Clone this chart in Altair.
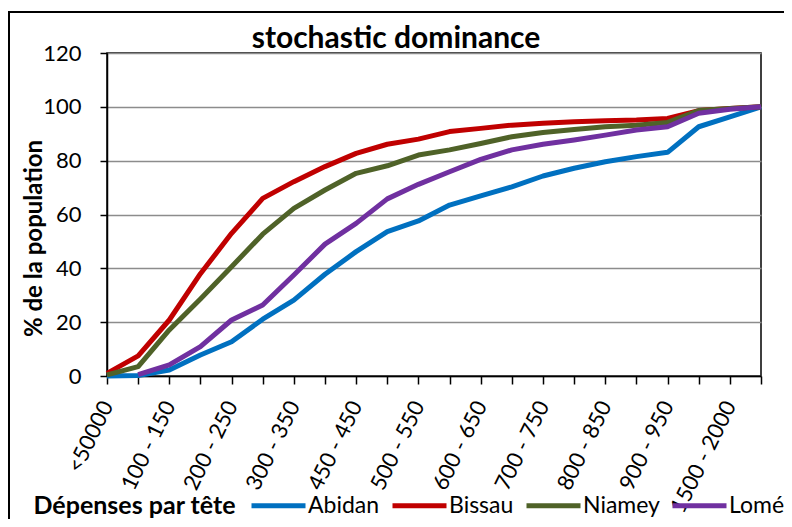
import altair as alt
import pandas as pd

categories = ["<50000", "50 - 100", "100 - 150", "150 - 200", "200 - 250", "250 - 300",
              "300 - 350", "350 - 400", "450 - 450", "450 - 500", "500 - 550", "550 - 600",
              "600 - 650", "650 - 700", "700 - 750", "750 - 800", "800 - 850", "850 - 900",
              "900 - 950", "1000 - 1500", "1500 - 2000", ">2000"]
shown_labels = categories[::2]

series = ["Abidan", "Bissau", "Niamey", "Lomé"]
colors = ["#0070C0", "#C00000", "#4F6228", "#7030A0"]

abidan = [0, 0.2, 2.2, 7.8, 12.7, 21.1, 28.2, 37.8, 46.2, 53.6, 57.6, 63.5, 66.9, 70.3,
          74.3, 77.2, 79.6, 81.5, 83.1, 92.6, 96.3, 100]
bissau = [1.0, 7.5, 20.8, 38.0, 53.0, 66.0, 72.2, 77.8, 82.7, 86.1, 88.0, 90.8, 92.0, 93.2,
          93.9, 94.5, 94.8, 95.1, 95.7, 98.6, 99.4, 100]
niamey = [0.4, 3.5, 17.1, 28.6, 40.6, 52.7, 62.3, 69.1, 75.3, 78.1, 82.1, 84.0, 86.4, 88.9,
          90.5, 91.6, 92.6, 93.2, 94.2, 98.6, 99.4, 100]
lome = [None, 0.5, 4.1, 10.9, 20.8, 26.4, 37.5, 49.0, 56.7, 65.8, 71.2, 75.9, 80.5, 84.0,
        86.1, 87.7, 89.5, 91.4, 92.6, 97.6, 99.1, 100]

rows = []
for name, vals in zip(series, [abidan, bissau, niamey, lome]):
    for c, v in zip(categories, vals):
        if v is not None:
            rows.append({"cat": c, "series": name, "value": v})
df = pd.DataFrame(rows)

FONT = "Lato"
label_expr = "indexof(" + str(shown_labels).replace('"', "'") + ", datum.value) >= 0 ? datum.value : ''"

lines = alt.Chart(df).mark_line(strokeWidth=5, strokeJoin="round").encode(
    x=alt.X("cat:N", sort=categories, scale=alt.Scale(type="point", padding=0),
            axis=alt.Axis(title="Dépenses par tête", titleFontSize=25, titleFont=FONT,
                          titleFontWeight="bold", titleColor="black", titleX=-74, titleY=137,
                          titleAlign="left", titleBaseline="alphabetic", titleAngle=0,
                          titleLimit=400,
                          labelAngle=-64, labelAlign="right", labelBaseline="middle",
                          labelExpr=label_expr, labelFontSize=22, labelFont=FONT,
                          labelColor="black", labelOffset=0, labelPadding=18,
                          labelOverlap=False, tickSize=8, tickColor="black", tickWidth=1.5,
                          domainColor="black", domainWidth=1.5, grid=False)),
    y=alt.Y("value:Q", scale=alt.Scale(domain=[0, 120]),
            axis=alt.Axis(values=[0, 20, 40, 60, 80, 100, 120], title="% de la population",
                          titleFontSize=24, titleFont=FONT, titleFontWeight="bold",
                          titleColor="black", titleX=-73, titleY=185, titleAngle=-90,
                          titleAlign="center", titleBaseline="middle",
                          labelFontSize=22, labelFont=FONT, labelColor="black",
                          labelPadding=19, tickSize=7, tickColor="black", tickWidth=1.5,
                          domainColor="black", domainWidth=1.5,
                          gridColor="#8c8c8c", gridWidth=1.5)),
    color=alt.Color("series:N", sort=series,
                    scale=alt.Scale(domain=series, range=colors),
                    legend=alt.Legend(orient="none", legendX=142, legendY=423, padding=0,
                                      direction="horizontal", columns=4, title=None,
                                      labelFontSize=23, labelFont=FONT, labelColor="black",
                                      labelLimit=200,
                                      symbolType="stroke", symbolSize=2916,
                                      symbolStrokeWidth=5, labelOffset=0, columnPadding=2)),
)

frame = alt.Chart(alt.Data(values=[{"a": 1}])).mark_rect(
    fillOpacity=0, stroke="black", strokeWidth=2
).encode(x=alt.value(-98), y=alt.value(-41), x2=alt.value(900), y2=alt.value(700))

chart = alt.layer(frame, lines).properties(
    width=654, height=323,
    title=alt.TitleParams("stochastic dominance", fontSize=30, font=FONT, fontWeight="bold",
                          anchor="middle", frame="group", dx=-38, offset=-67,
                          baseline="alphabetic", color="black"),
    autosize=alt.AutoSizeParams(type="none"),
    padding={"left": 99, "top": 45, "right": 23, "bottom": 143},
).configure(font=FONT).configure_view(stroke="black", strokeWidth=1.5)

chart.save("out.html", embed_options={"renderer": "svg", "actions": False})
